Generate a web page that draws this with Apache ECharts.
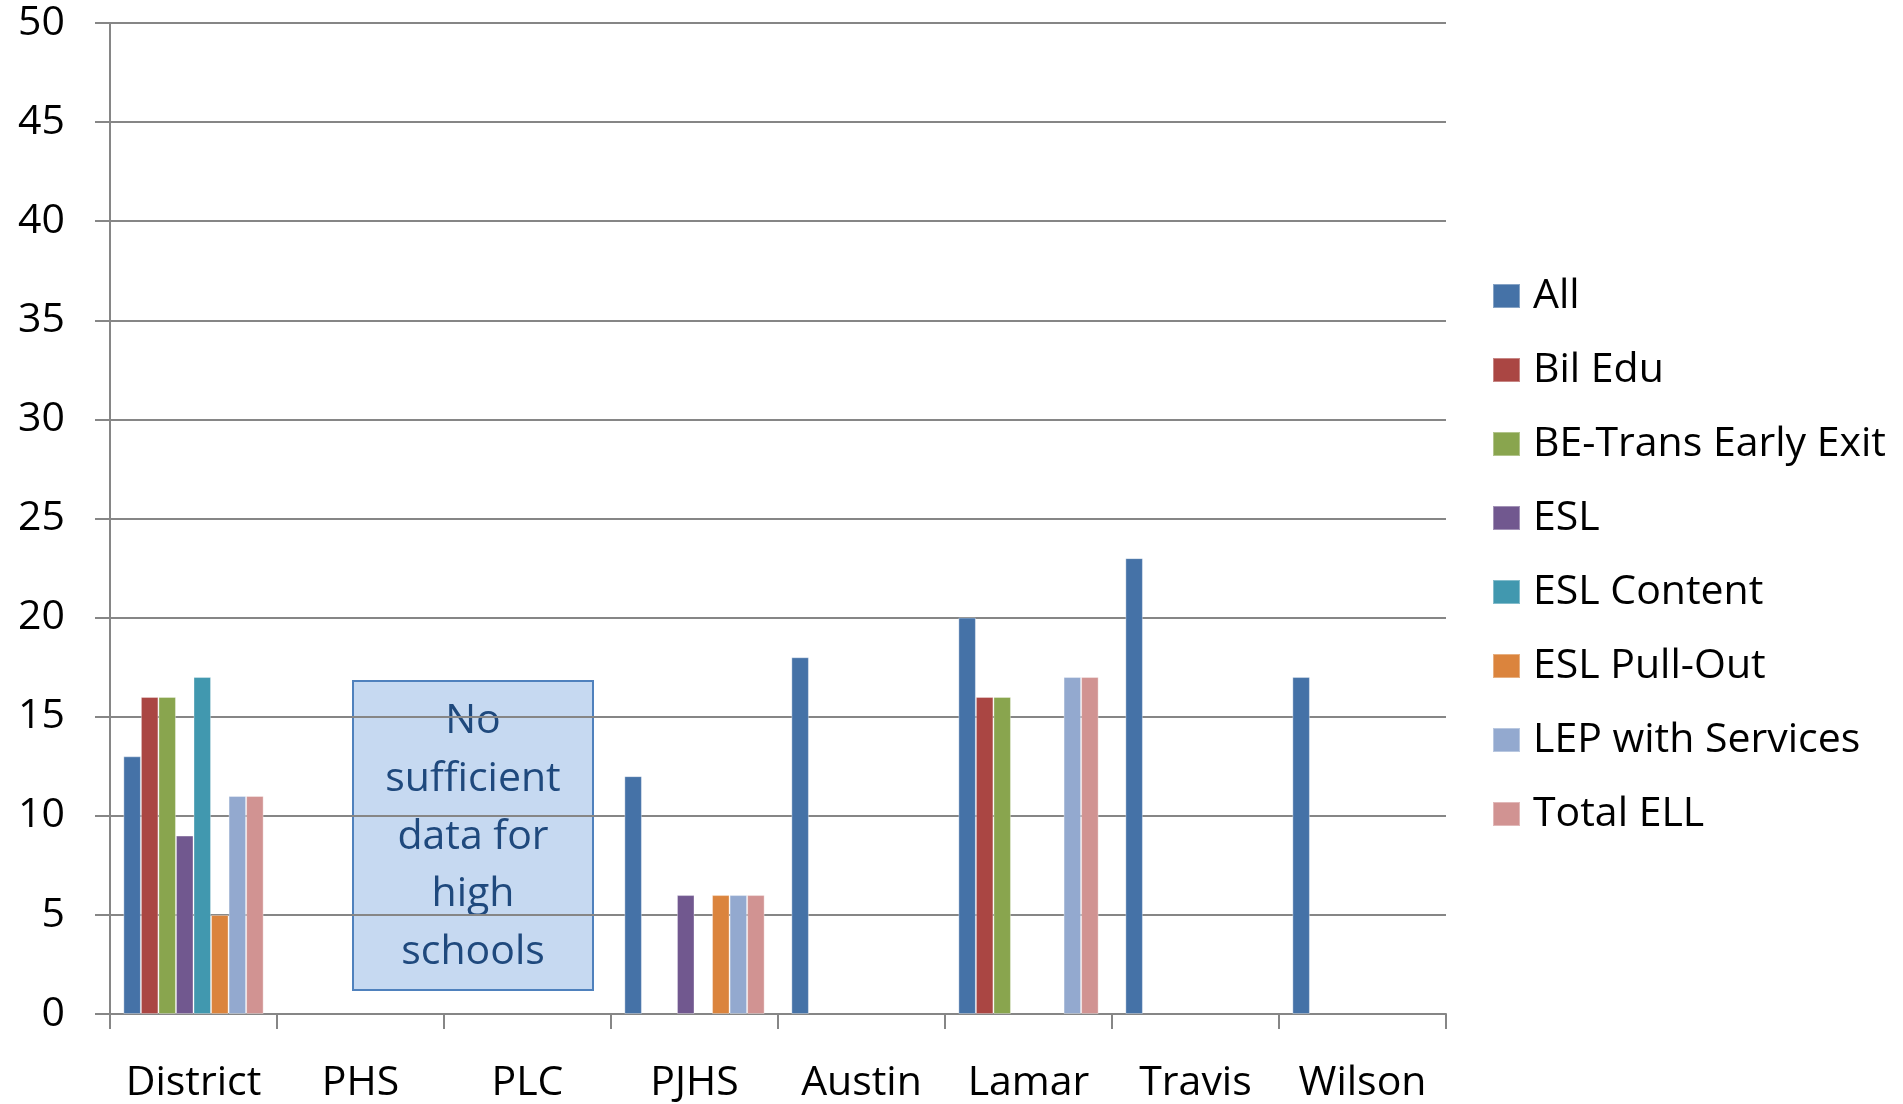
<!DOCTYPE html>
<html>
<head>
<meta charset="utf-8">
<script src="https://cdn.jsdelivr.net/npm/echarts@6/dist/echarts.min.js"></script>
<style>
  html, body { margin: 0; padding: 0; background: #fff; }
  #chart { width: 1903px; height: 1104px; }
</style>
</head>
<body>
<div id="chart"></div>
<script>
// categories and series values (null = no bar)
const schools = ["District", "PHS", "PLC", "PJHS", "Austin", "Lamar", "Travis", "Wilson"];
const yTicks = [0, 5, 10, 15, 20, 25, 30, 35, 40, 45, 50];

const allStudents   = [13, null, null, 12, 18, 20, 23, 17];
const bilEdu        = [16, null, null, null, null, 16, null, null];
const beTransEarly  = [16, null, null, null, null, 16, null, null];
const esl           = [9, null, null, 6, null, null, null, null];
const eslContent    = [17, null, null, null, null, null, null, null];
const eslPullOut    = [5, null, null, 6, null, null, null, null];
const lepServices   = [11, null, null, 6, null, 17, null, null];
const totalEll      = [11, null, null, 6, null, 17, null, null];

const seriesNames = ["All", "Bil Edu", "BE-Trans Early Exit", "ESL", "ESL Content", "ESL Pull-Out", "LEP with Services", "Total ELL"];
const seriesData = [allStudents, bilEdu, beTransEarly, esl, eslContent, eslPullOut, lepServices, totalEll];
const colors = ["#4572A7", "#AA4643", "#89A54E", "#71588F", "#4198AF", "#DB843D", "#93A9CF", "#D19392"];

const noteLines = ["No", "sufficient", "data for", "high", "schools"];

const font = "'Open Sans', 'Noto Sans', sans-serif";
const gridColor = "#868686";

let myChart = echarts.init(document.getElementById("chart"));

let option = {
  backgroundColor: "#fff",
  animation: false,
  color: colors,
  textStyle: { fontFamily: font },
  grid: {
    left: 110,
    right: 457,
    top: 23,
    bottom: 84,
    containLabel: false
  },
  legend: {
    orient: "vertical",
    left: 1487,
    top: 269,
    icon: "rect",
    itemWidth: 27,
    itemHeight: 24,
    itemGap: 30,
    textStyle: {
      fontFamily: font,
      fontSize: 41,
      color: "#000",
      lineHeight: 44,
      padding: [0, 0, 0, 8]
    },
    data: seriesNames
  },
  xAxis: {
    type: "category",
    data: schools,
    axisLine: { lineStyle: { color: gridColor, width: 2 } },
    axisTick: { show: true, length: 15, lineStyle: { color: gridColor, width: 2 } },
    axisLabel: {
      interval: 0,
      margin: 49,
      color: "#000",
      fontFamily: font,
      fontSize: 41
    },
    splitLine: { show: false }
  },
  yAxis: {
    type: "value",
    min: 0,
    max: 50,
    interval: 5,
    axisLine: { show: true, lineStyle: { color: gridColor, width: 2 } },
    axisTick: { show: true, length: 15, lineStyle: { color: gridColor, width: 2 } },
    axisLabel: {
      margin: 45,
      color: "#000",
      fontFamily: font,
      fontSize: 41,
      formatter: v => (yTicks.indexOf(v) >= 0 ? String(v) : "")
    },
    splitLine: { show: true, lineStyle: { color: gridColor, width: 2 } }
  },
  series: seriesNames.map((name, i) => ({
    name: name,
    type: "bar",
    data: seriesData[i],
    barGap: "0%",
    barCategoryGap: "16%",
    itemStyle: {
      color: colors[i],
      borderColor: "rgba(255,255,255,0.35)",
      borderWidth: 1
    }
  })),
  graphic: [
    {
      type: "group",
      left: 352,
      top: 680,
      children: [
        {
          type: "rect",
          shape: { x: 0, y: 0, width: 240, height: 309 },
          style: { fill: "#C6D9F1", stroke: "#4F81BD", lineWidth: 2 }
        },
        {
          type: "text",
          x: 120,
          y: 12,
          style: {
            text: noteLines.join("\n"),
            fill: "#1F497D",
            font: "41px " + font,
            lineHeight: 57.6,
            align: "center",
            verticalAlign: "top"
          }
        }
      ]
    }
  ]
};

myChart.setOption(option);
window.addEventListener("resize", () => {
  myChart.resize();
});
</script>
</body>
</html>
